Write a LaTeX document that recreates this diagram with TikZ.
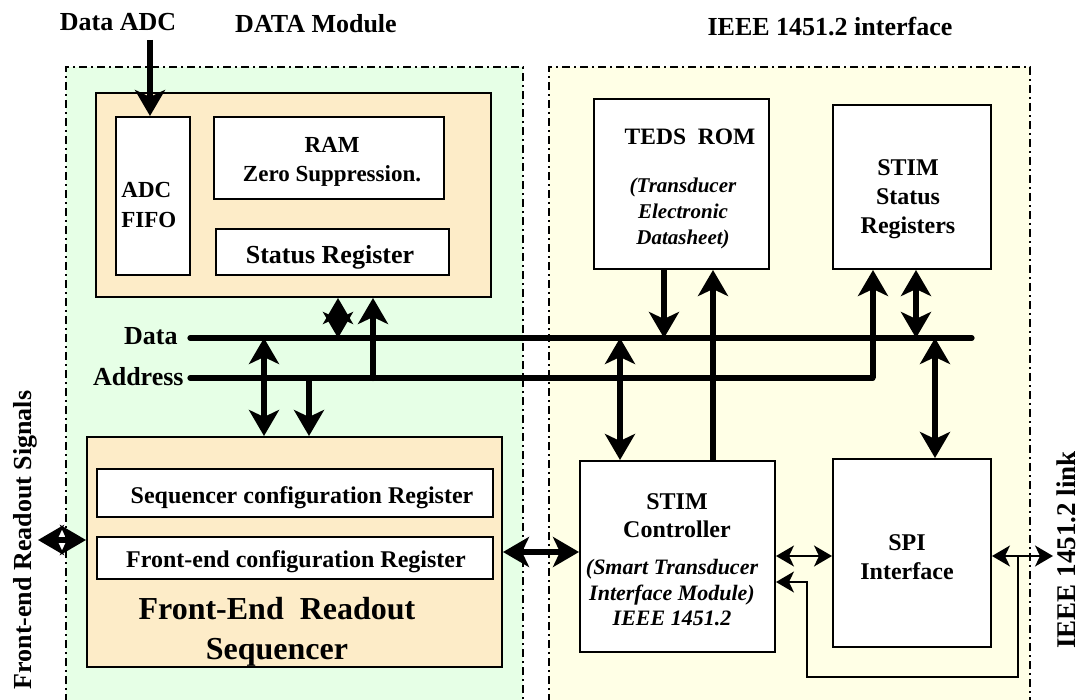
\documentclass[tikz,border=0pt]{standalone}
\usepackage{fontspec}
\setmainfont{Liberation Serif}
\usetikzlibrary{arrows.meta,fit}
\definecolor{greenbg}{RGB}{230,255,230}
\definecolor{yellowbg}{RGB}{255,255,230}
\definecolor{orangebg}{RGB}{253,236,200}
\newcommand{\myfs}[2]{\fontsize{#1}{#2}\selectfont}
\tikzset{
  box/.style={draw, line width=1pt, fill=white, inner sep=0pt},
  obox/.style={draw, line width=1pt, fill=orangebg, inner sep=0pt},
  region/.style={line width=0.7pt, dash pattern=on 4pt off 2pt on 1pt off 2pt},
  bus/.style={line width=2.6pt, line cap=round},
  bighead/.tip={Stealth[length=13pt,width=15pt,inset=3.5pt]},
  smallhead/.tip={Stealth[length=9pt,width=10.5pt,inset=2.5pt]},
  thk/.style={line width=2.6pt, -bighead},
  thkb/.style={line width=2.6pt, bighead-bighead},
  thn/.style={line width=0.8pt, -smallhead},
  thnb/.style={line width=0.8pt, smallhead-smallhead},
  lbl/.style={inner sep=0pt, font=\bfseries},
}
\begin{document}
\begin{tikzpicture}[x=0.5pt,y=-0.5pt]
\useasboundingbox (0,0) rectangle (1082,700);
% regions
\fill[greenbg] (66,67) rectangle (523,720);
\draw[region] (66,720) -- (66,67) -- (523,67) -- (523,720);
\fill[yellowbg] (549,67) rectangle (1030,720);
\draw[region] (549,720) -- (549,67) -- (1030,67) -- (1030,720);

% boxes
\node[obox, fit={(96,93) (491,297)}] (dmod) {};
\node[box, fit={(116,117) (190,275)}] (fifo) {};
\node[box, fit={(214,117) (444,199)}] (ram) {};
\node[box, fit={(216,229) (449,275)}] (stat) {};
\node[obox, fit={(87,437) (502,667)}] (fers) {};
\node[box, fit={(97,469) (493,517)}] (seqcfg) {};
\node[box, fit={(97,537) (493,579)}] (fecfg) {};
\node[box, fit={(594,99) (769,269)}] (teds) {};
\node[box, fit={(833,105) (991,269)}] (stimstat) {};
\node[box, fit={(580,461) (775,652)}] (stimctrl) {};
\node[box, fit={(833,459) (991,647)}] (spi) {};

% texts
\node[lbl, font=\bfseries\myfs{13}{15}] (tADC) at (118,22) {Data ADC};
\node[lbl, font=\bfseries\myfs{13}{15}] (tDM) at (316,24) {DATA Module};
\node[lbl, font=\bfseries\myfs{13}{15}] (tIEEE) at (830,27) {IEEE 1451.2 interface};
\node[lbl, font=\bfseries\myfs{11.5}{15}, anchor=west, align=left] (tfifo) at (121,205) {ADC\\FIFO};
\node[lbl, font=\bfseries\myfs{11.5}{14.5}, align=center] (tram) at (332,162) {RAM\\Zero Suppression.};
\node[lbl, font=\bfseries\myfs{13}{15}] (tstat) at (330,257) {Status Register};
\node[lbl, font=\bfseries\myfs{13}{15}, anchor=east] (tdata) at (178,336) {Data};
\node[lbl, font=\bfseries\myfs{13}{15}, anchor=east] (taddr) at (184,377) {Address};
\node[lbl, font=\bfseries\myfs{12}{14}] (tseq) at (302,498) {Sequencer configuration Register};
\node[lbl, font=\bfseries\myfs{12}{14}] (tfe) at (296,562) {Front-end configuration Register};
\node[lbl, font=\bfseries\myfs{16}{20}, align=center] (tfers) at (277,632) {Front-End\ \ Readout\\Sequencer};
\node[lbl, font=\bfseries\myfs{13}{15}, rotate=90, anchor=base] (tsig) at (32,540) {Front-end Readout Signals};
\node[lbl, font=\bfseries\myfs{11.75}{14}] (tteds) at (690,137) {TEDS\ \ ROM};
\node[lbl, font=\bfseries\itshape\myfs{10.5}{13}, align=center] (ttedsi) at (683,213) {(Transducer\\Electronic\\Datasheet)};
\node[lbl, font=\bfseries\myfs{12}{14.5}, align=center] (tss) at (908,199) {STIM\\Status\\Registers};
\node[lbl, font=\bfseries\myfs{12}{14}, align=center] (tsc) at (677,516) {STIM\\Controller};
\node[lbl, font=\bfseries\itshape\myfs{11}{12.75}, align=center] (tsci) at (672,593) {(Smart Transducer\\Interface Module)\\IEEE 1451.2};
\node[lbl, font=\bfseries\myfs{12}{14.5}, align=center] (tspi) at (907,557) {SPI\\Interface};
\node[lbl, font=\bfseries\myfs{13.5}{15}, rotate=90, anchor=base] (tlink) at (1075,550) {IEEE 1451.2 link};

% coordinates
\coordinate (dataL) at (190,338);
\coordinate (dataR) at (972,338);
\coordinate (addrL) at (190,378);
\coordinate (addrC) at (873,378);
\coordinate (adcin) at (150,40);
\coordinate (c264) at (264,0);
\coordinate (c309) at (309,0);
\coordinate (c338) at (338,0);
\coordinate (c373) at (373,0);
\coordinate (c620) at (620,0);
\coordinate (c664) at (664,0);
\coordinate (c713) at (713,0);
\coordinate (c916) at (916,0);
\coordinate (c935) at (935,0);
\coordinate (fesig) at (38,540);
\coordinate (r552) at (0,552);
\coordinate (r556) at (0,556);
\coordinate (linkout) at (1053,556);
\coordinate (lp1) at (1018,556);
\coordinate (lp2) at (1018,677);
\coordinate (lp3) at (807,677);
\coordinate (lp4) at (807,582);

% buses
\draw[bus] (dataL) -- (dataR);
\draw[bus] (addrL) -- (addrC);
\draw[thk] (addrC) -- (stimstat.south -| addrC);

% thick arrows
\draw[thk] (adcin) -- (fifo.north -| adcin);
\draw[thkb] (dataL -| c338) -- (dmod.south -| c338);
\draw[thk] (addrL -| c373) -- (dmod.south -| c373);
\fill (addrL -| c373) circle (1.6pt);
\draw[thkb] (dataL -| c264) -- (fers.north -| c264);
\draw[thk] (addrL -| c309) -- (fers.north -| c309);
\draw[thk] (teds.south -| c664) -- (dataL -| c664);
\draw[thk] (stimctrl.north -| c713) -- (teds.south -| c713);
\draw[thkb] (dataL -| c620) -- (stimctrl.north -| c620);
\draw[thkb] (dataL -| c916) -- (stimstat.south -| c916);
\draw[thkb] (dataL -| c935) -- (spi.north -| c935);
\draw[thkb] (fers.east |- r552) -- (stimctrl.west |- r552);
\draw[thkb] (fesig) -- (fers.west |- fesig);

% thin arrows
\draw[thnb] (stimctrl.east |- r556) -- (spi.west |- r556);
\draw[thnb] (spi.east |- r556) -- (linkout);
\draw[thn] (lp1) -- (lp2) -- (lp3) -- (lp4) -- (stimctrl.east |- lp4);
\end{tikzpicture}
\end{document}
